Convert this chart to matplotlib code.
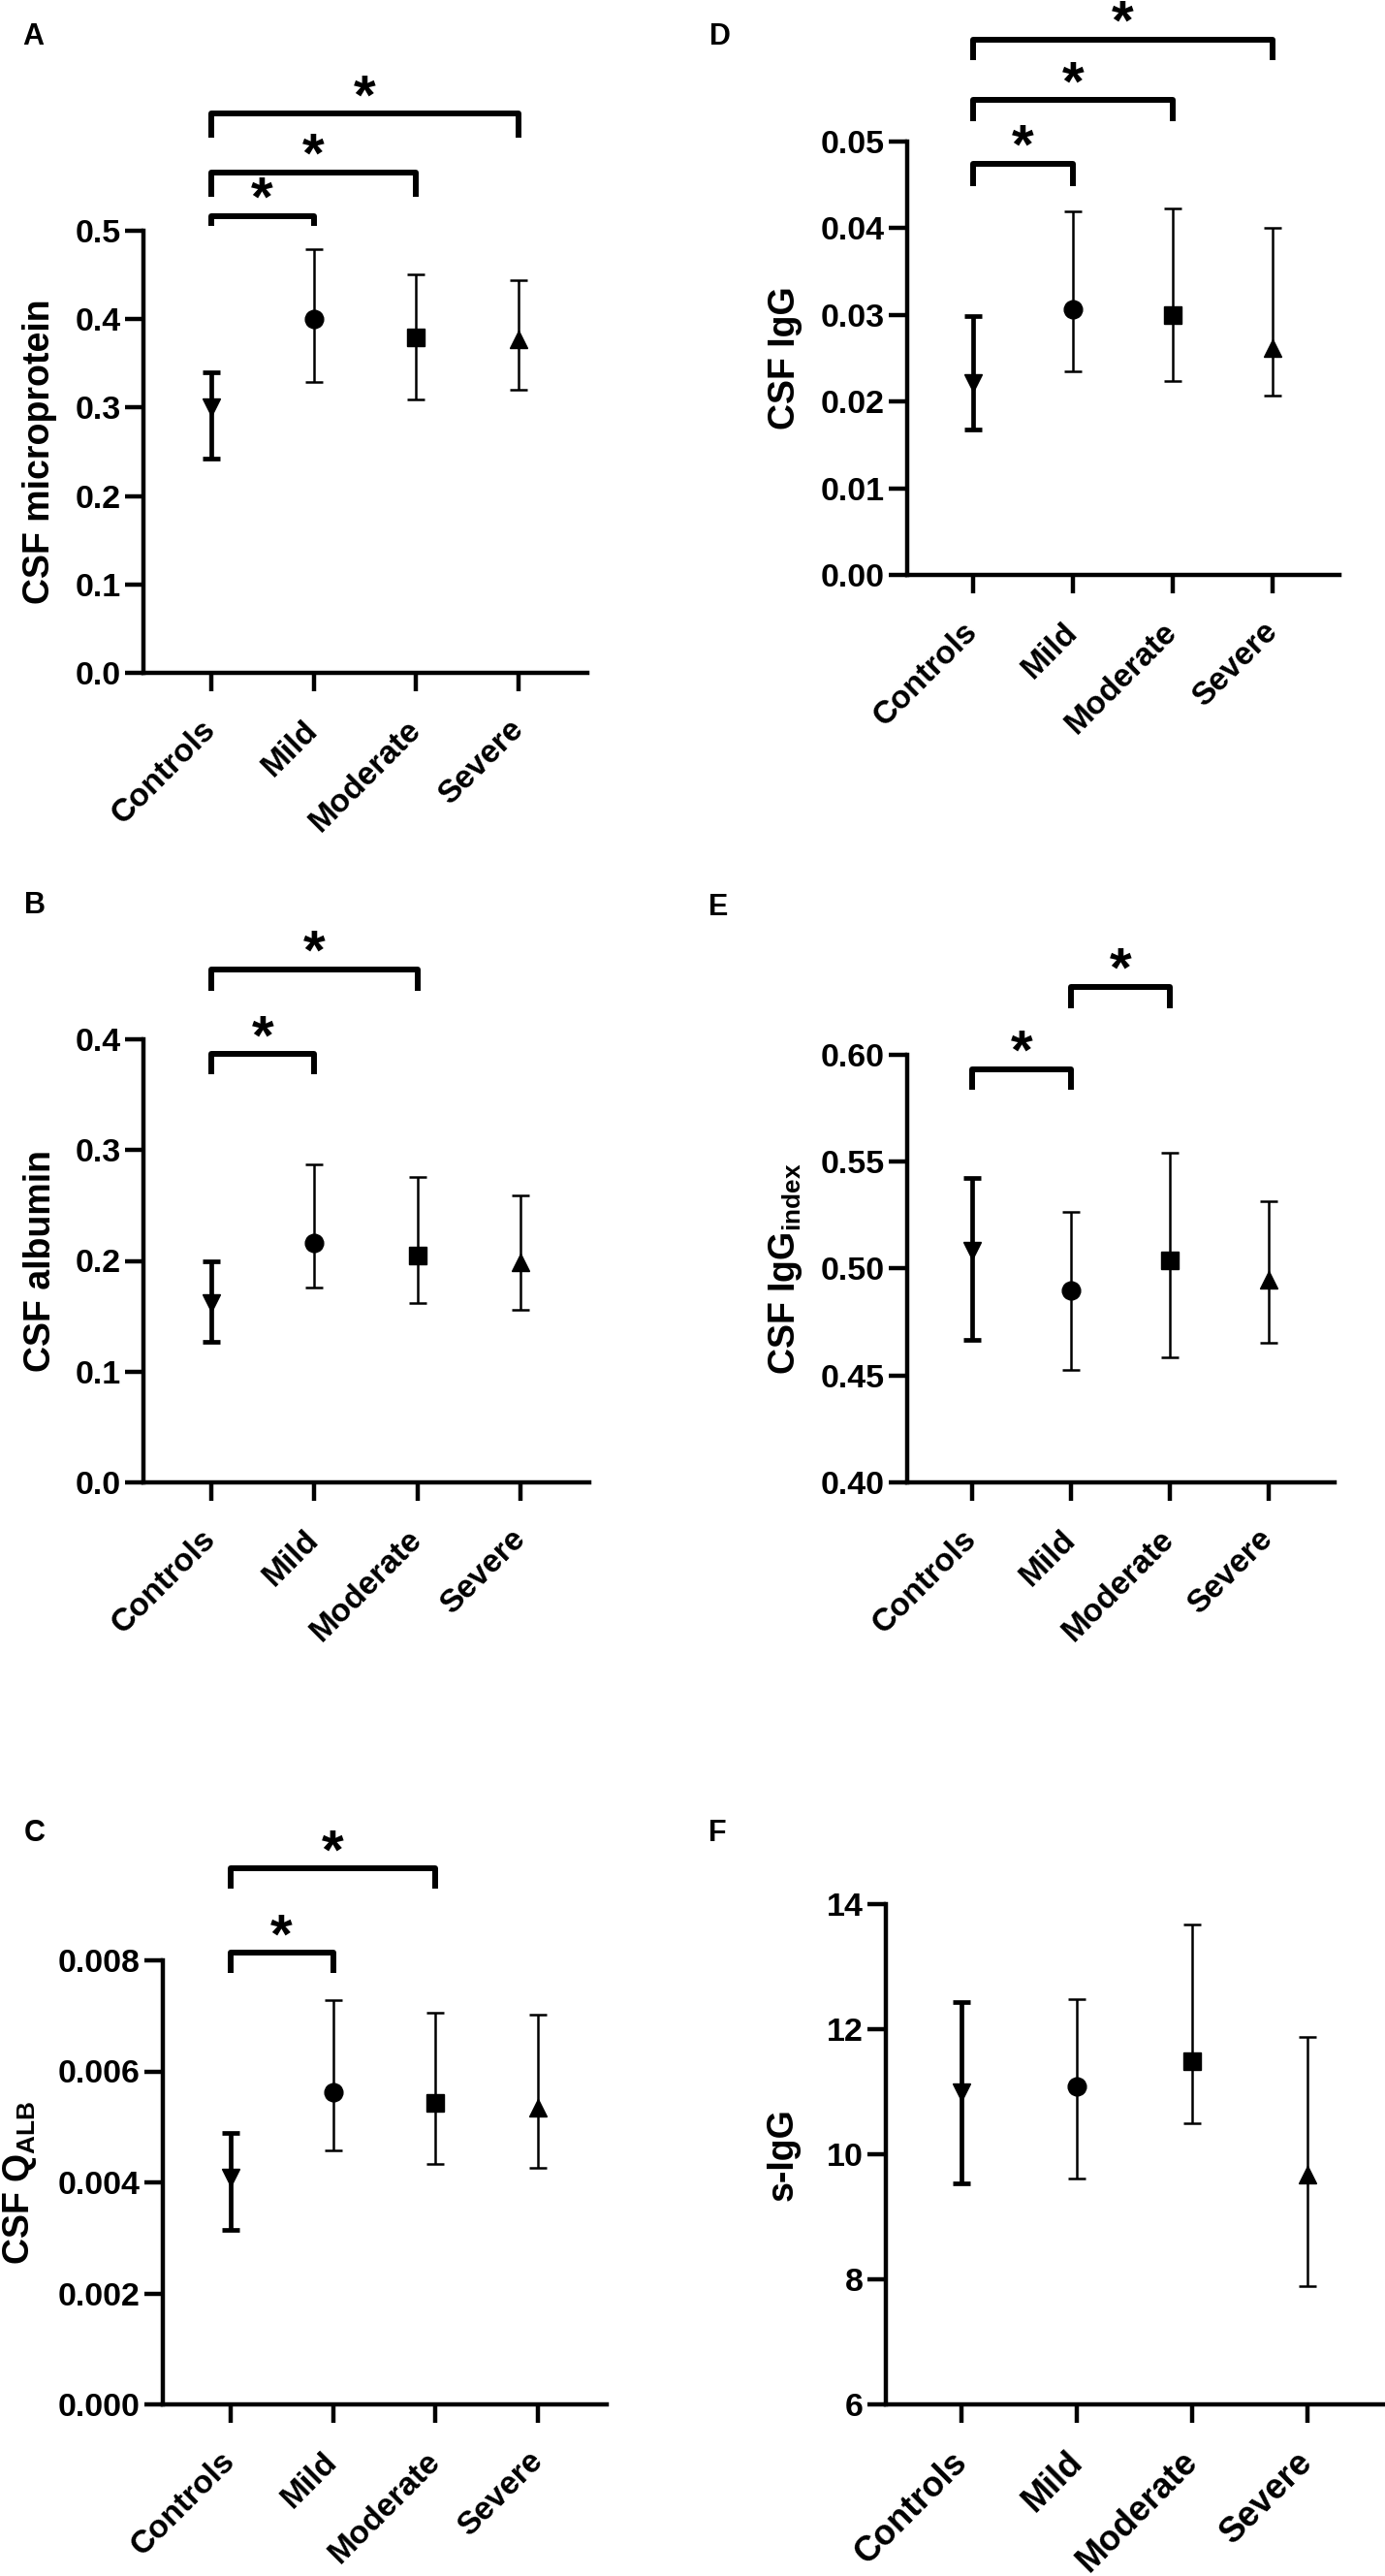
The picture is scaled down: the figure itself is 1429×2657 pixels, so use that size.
import matplotlib
matplotlib.use("Agg")
import matplotlib.pyplot as plt
import matplotlib.transforms as mtransforms
from matplotlib.ticker import MultipleLocator, FormatStrFormatter

plt.rcParams['font.family'] = ['Liberation Sans', 'DejaVu Sans']
plt.rcParams['font.weight'] = 'bold'
plt.rcParams['mathtext.default'] = 'regular'

groups = ['Controls', 'Mild', 'Moderate', 'Severe']
markers = ['v', 'o', 's', '^']

# mean, lower and upper end of the error bar for each group
micro_mean = [0.300, 0.400, 0.379, 0.377]
micro_low = [0.242, 0.329, 0.309, 0.320]
micro_high = [0.340, 0.479, 0.451, 0.444]

alb_mean = [0.162, 0.216, 0.205, 0.199]
alb_low = [0.127, 0.176, 0.162, 0.156]
alb_high = [0.200, 0.287, 0.276, 0.259]

qalb_mean = [0.00408, 0.00563, 0.00543, 0.00534]
qalb_low = [0.00314, 0.00457, 0.00433, 0.00427]
qalb_high = [0.00489, 0.00729, 0.00705, 0.00702]

igg_mean = [0.0221, 0.0306, 0.0300, 0.0262]
igg_low = [0.0168, 0.0235, 0.0224, 0.0207]
igg_high = [0.0299, 0.0420, 0.0423, 0.0401]

iggidx_mean = [0.5086, 0.4897, 0.5037, 0.4946]
iggidx_low = [0.4668, 0.4526, 0.4587, 0.4651]
iggidx_high = [0.5423, 0.5265, 0.5540, 0.5315]

sigg_mean = [10.99, 11.08, 11.49, 9.67]
sigg_low = [9.53, 9.62, 10.50, 7.89]
sigg_high = [12.44, 12.48, 13.68, 11.87]

# significant pairs (group indices)
micro_pairs = [(0, 1), (0, 2), (0, 3)]
alb_pairs = [(0, 1), (0, 2)]
qalb_pairs = [(0, 1), (0, 2)]
igg_pairs = [(0, 1), (0, 2), (0, 3)]
iggidx_pairs = [(0, 1), (1, 2)]
sigg_pairs = []

W, H = 1429, 2657
fig = plt.figure(figsize=(W / 100, H / 100), dpi=100)

# layout in pixels: axes left, right, top, bottom; label positions;
# bracket (line, leg end) in axes fraction
panels = [
    dict(letter='A', pos=(148, 606, 238, 694), lab=(34, 38), ylab_x=41,
         ylabel='CSF microprotein', ylim=(0, 0.5), step=0.1, fmt='%.1f',
         mean=micro_mean, low=micro_low, high=micro_high, pairs=micro_pairs,
         br=[(1.033, 1.011), (1.132, 1.077), (1.265, 1.211)], xfs=24),
    dict(letter='D', pos=(936, 1382, 146, 593), lab=(743, 38), ylab_x=810,
         ylabel='CSF IgG', ylim=(0, 0.05), step=0.01, fmt='%.2f',
         mean=igg_mean, low=igg_low, high=igg_high, pairs=igg_pairs,
         br=[(0.949, 0.897), (1.096, 1.047), (1.235, 1.188)], xfs=24),
    dict(letter='B', pos=(148, 608, 1072, 1529), lab=(36, 934), ylab_x=42,
         ylabel='CSF albumin', ylim=(0, 0.4), step=0.1, fmt='%.1f',
         mean=alb_mean, low=alb_low, high=alb_high, pairs=alb_pairs,
         br=[(0.967, 0.921), (1.158, 1.109)], xfs=24),
    dict(letter='E', pos=(936, 1377, 1088, 1529), lab=(741, 936), ylab_x=811,
         ylabel='CSF IgG$_{index}$', ylim=(0.4, 0.6), step=0.05, fmt='%.2f',
         mean=iggidx_mean, low=iggidx_low, high=iggidx_high, pairs=iggidx_pairs,
         br=[(0.966, 0.918), (1.159, 1.109)], xfs=24),
    dict(letter='C', pos=(168, 626, 2022, 2480), lab=(36, 1891), ylab_x=21,
         ylabel='CSF Q$_{ALB}$', ylim=(0, 0.008), step=0.002, fmt='%.3f',
         mean=qalb_mean, low=qalb_low, high=qalb_high, pairs=qalb_pairs,
         br=[(1.017, 0.972), (1.207, 1.162)], xfs=24),
    dict(letter='F', pos=(914, 1429, 1964, 2480), lab=(740, 1891), ylab_x=808,
         ylabel='s-IgG', ylim=(6, 14), step=2, fmt='%d',
         mean=sigg_mean, low=sigg_low, high=sigg_high, pairs=sigg_pairs,
         br=[], xfs=26),
]

label_shift = mtransforms.ScaledTranslation(4 / 100, 0, fig.dpi_scale_trans)

for p in panels:
    l, r, t, b = p['pos']
    ax = fig.add_axes([l / W, 1 - b / H, (r - l) / W, (b - t) / H])

    for i in range(len(groups)):
        lw = 3.4 if i == 0 else 1.8
        m = p['mean'][i]
        ax.errorbar(i, m, yerr=[[m - p['low'][i]], [p['high'][i] - m]],
                    fmt=markers[i], color='black', ms=13.5, elinewidth=lw,
                    capsize=6.5, capthick=lw, clip_on=False, zorder=3)

    ax.set_xlim(-0.66, 3.67)
    ax.set_ylim(*p['ylim'])
    ax.yaxis.set_major_locator(MultipleLocator(p['step']))
    ax.yaxis.set_major_formatter(FormatStrFormatter(p['fmt']))
    ax.set_xticks(range(len(groups)))
    ax.set_xticklabels(groups, rotation=45, ha='right', va='center',
                       rotation_mode='anchor')
    for lab in ax.get_xticklabels():
        lab.set_transform(lab.get_transform() + label_shift)

    for side in ['top', 'right']:
        ax.spines[side].set_visible(False)
    for side in ['left', 'bottom']:
        ax.spines[side].set_linewidth(3.2)
    ax.tick_params(axis='both', length=14, width=3.2)
    ax.tick_params(axis='y', pad=3, labelsize=24.5)
    ax.tick_params(axis='x', pad=25, labelsize=p['xfs'])

    trans = mtransforms.blended_transform_factory(ax.transData, ax.transAxes)
    for (i, j), (yl, yb) in zip(p['pairs'], p['br']):
        ax.plot([i, i, j, j], [yb, yl, yl, yb], color='black', lw=4.3,
                transform=trans, clip_on=False, solid_joinstyle='round',
                solid_capstyle='butt')
        ax.text((i + j) / 2, yl, '*', transform=trans, ha='center',
                va='baseline', fontsize=42, fontweight='bold')

    fig.text(p['lab'][0] / W, 1 - p['lab'][1] / H, p['letter'], fontsize=22,
             fontweight='bold', ha='center', va='center')
    fig.text(p['ylab_x'] / W, 1 - ((t + b) / 2) / H, p['ylabel'], fontsize=27,
             fontweight='bold', rotation=90, ha='center', va='center')

fig.savefig('out.png', dpi=100)
